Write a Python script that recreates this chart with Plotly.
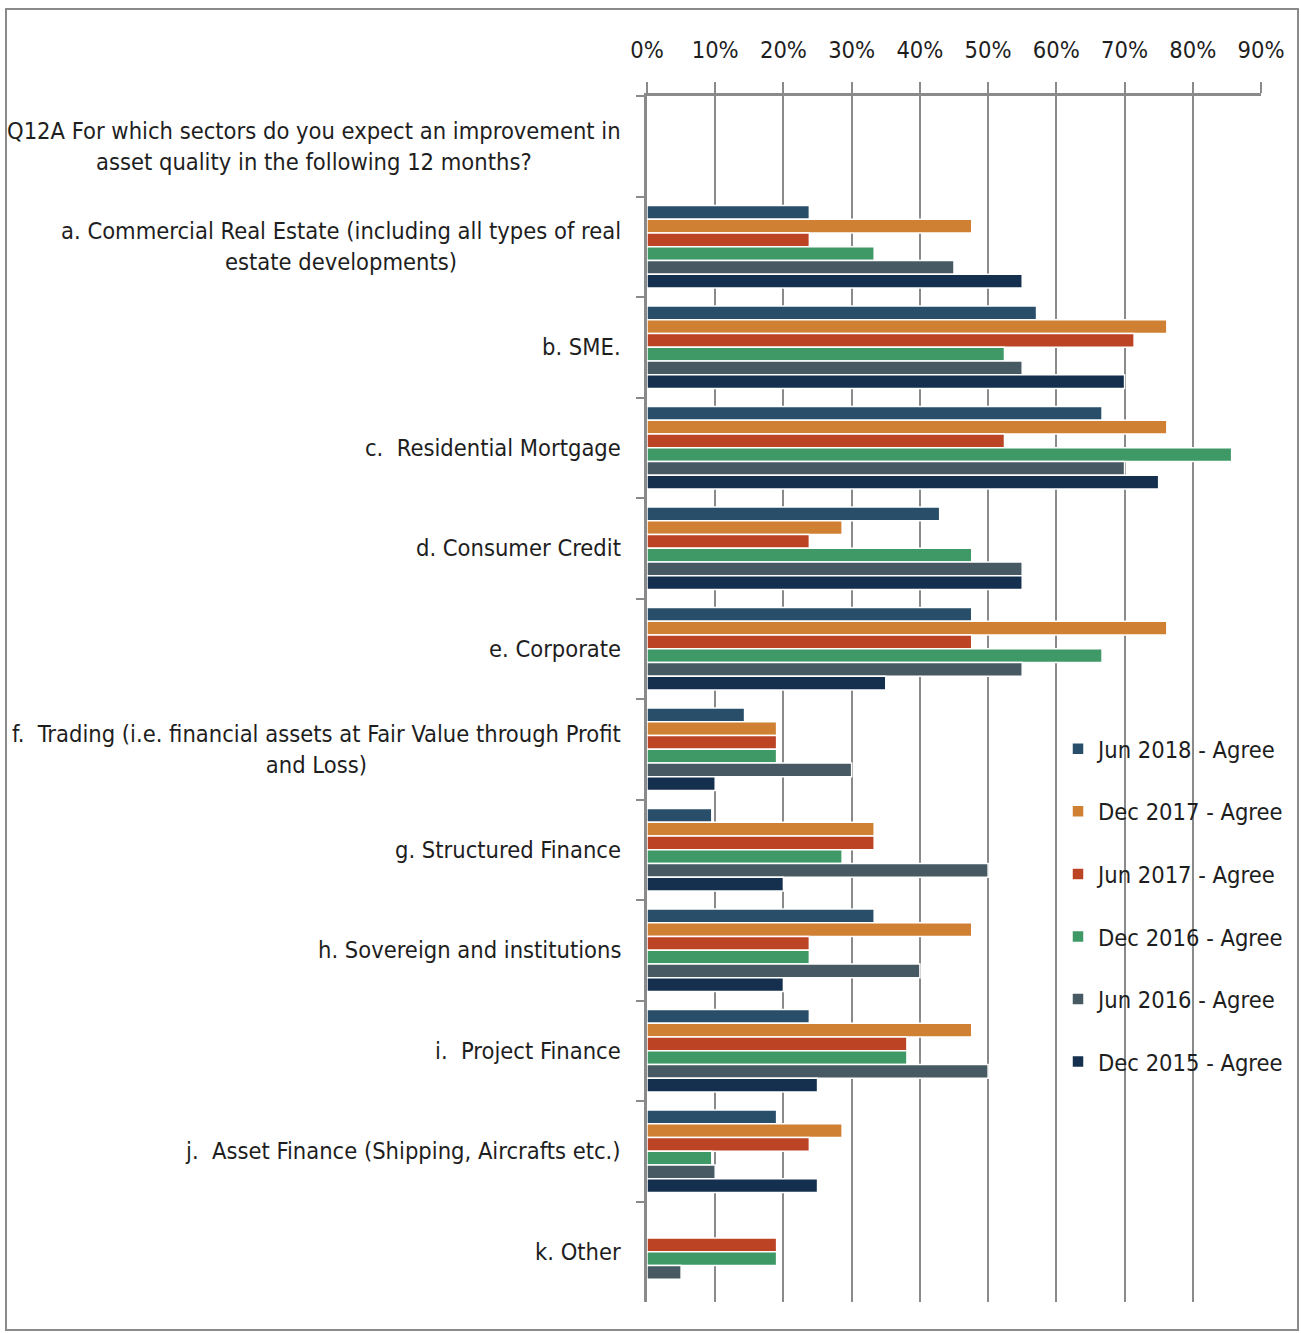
import plotly.graph_objects as go

# Survey question and sector categories (top to bottom)
categories = [
    "Q12A For which sectors do you expect an improvement in<br>asset quality in the following 12 months?",
    "a. Commercial Real Estate (including all types of real<br>estate developments)",
    "b. SME.",
    "c.  Residential Mortgage",
    "d. Consumer Credit",
    "e. Corporate",
    "f.  Trading (i.e. financial assets at Fair Value through Profit<br>and Loss)",
    "g. Structured Finance",
    "h. Sovereign and institutions",
    "i.  Project Finance",
    "j.  Asset Finance (Shipping, Aircrafts etc.)",
    "k. Other",
]

# Share of respondents who agree, in percent, per survey round
jun_2018 = [None, 23.8, 57.1, 66.7, 42.9, 47.6, 14.3, 9.5, 33.3, 23.8, 19.0, 0]
dec_2017 = [None, 47.6, 76.2, 76.2, 28.6, 76.2, 19.0, 33.3, 47.6, 47.6, 28.6, 0]
jun_2017 = [None, 23.8, 71.4, 52.4, 23.8, 47.6, 19.0, 33.3, 23.8, 38.1, 23.8, 19.0]
dec_2016 = [None, 33.3, 52.4, 85.7, 47.6, 66.7, 19.0, 28.6, 23.8, 38.1, 9.5, 19.0]
jun_2016 = [None, 45.0, 55.0, 70.0, 55.0, 55.0, 30.0, 50.0, 40.0, 50.0, 10.0, 5.0]
dec_2015 = [None, 55.0, 70.0, 75.0, 55.0, 35.0, 10.0, 20.0, 20.0, 25.0, 25.0, 0]

series_names = ["Jun 2018 - Agree", "Dec 2017 - Agree", "Jun 2017 - Agree",
                "Dec 2016 - Agree", "Jun 2016 - Agree", "Dec 2015 - Agree"]
series_values = [jun_2018, dec_2017, jun_2017, dec_2016, jun_2016, dec_2015]
series_colors = ["#284E69", "#D08033", "#BC4425", "#3E9966", "#475A64", "#15304F"]

tick_vals = [i / 10 for i in range(10)]
tick_text = [f"{i * 10}%" for i in range(10)]

FONT = "DejaVu Sans Condensed, Liberation Sans Narrow, Arial Narrow, sans-serif"
FSIZE = 23.5
TEXT_COLOR = "#1E1E1E"
GRID = "#8A8A8A"

fig = go.Figure()
for name, vals, color in zip(series_names, series_values, series_colors):
    fig.add_trace(go.Bar(
        y=categories,
        x=[None if v is None else v / 100 for v in vals],
        name=name,
        orientation="h",
        legendgroup=name,
        marker=dict(color=color, line=dict(color="white", width=1.5)),
    ))

# Category labels, right-aligned block with centred lines
for cat in categories:
    fig.add_annotation(
        x=0, xref="paper", y=cat, yref="y",
        xanchor="right", yanchor="middle", xshift=-24,
        text=cat, showarrow=False, align="center",
        font=dict(family=FONT, size=FSIZE, color=TEXT_COLOR),
    )

# Outer frame
L, R, T, B = 647, 1261, 96, 1302
W, H = R - L, B - T
fig.add_shape(
    type="rect", xref="paper", yref="paper",
    x0=(6 - L) / W, x1=(1298 - L) / W,
    y0=-(1330 - B) / H, y1=1 + (T - 9) / H,
    line=dict(color="#8A8A8A", width=2), fillcolor="rgba(0,0,0,0)", layer="below",
)

fig.update_layout(
    width=1301, height=1333,
    margin=dict(l=L, r=1301 - R, t=T, b=1333 - B, autoexpand=False),
    paper_bgcolor="white", plot_bgcolor="white",
    barmode="group", bargap=0.18, bargroupgap=0,
    font=dict(family=FONT, size=FSIZE, color=TEXT_COLOR),
    legend=dict(
        x=(1058 - L) / W, y=(B - 727) / H, xanchor="left", yanchor="top",
        bgcolor="rgba(0,0,0,0)", tracegroupgap=29, traceorder="grouped",
        font=dict(family=FONT, size=FSIZE, color=TEXT_COLOR),
    ),
    xaxis=dict(
        side="top", range=[0, 0.9], tickvals=tick_vals, ticktext=tick_text,
        automargin=False,
        showline=True, linecolor=GRID, linewidth=3,
        ticks="outside", ticklen=11, tickwidth=2, tickcolor=GRID,
        ticklabelstandoff=15,
        showgrid=True, gridcolor=GRID, gridwidth=2, zeroline=False,
        tickfont=dict(family=FONT, size=FSIZE, color=TEXT_COLOR),
    ),
    yaxis=dict(
        type="category", categoryorder="array", categoryarray=categories,
        autorange="reversed", showticklabels=False, automargin=False,
        showline=True, linecolor=GRID, linewidth=3,
        ticks="outside", tickson="boundaries", ticklen=8, tickwidth=2, tickcolor=GRID,
        showgrid=False, zeroline=False,
    ),
)

fig.write_html("out.html")
